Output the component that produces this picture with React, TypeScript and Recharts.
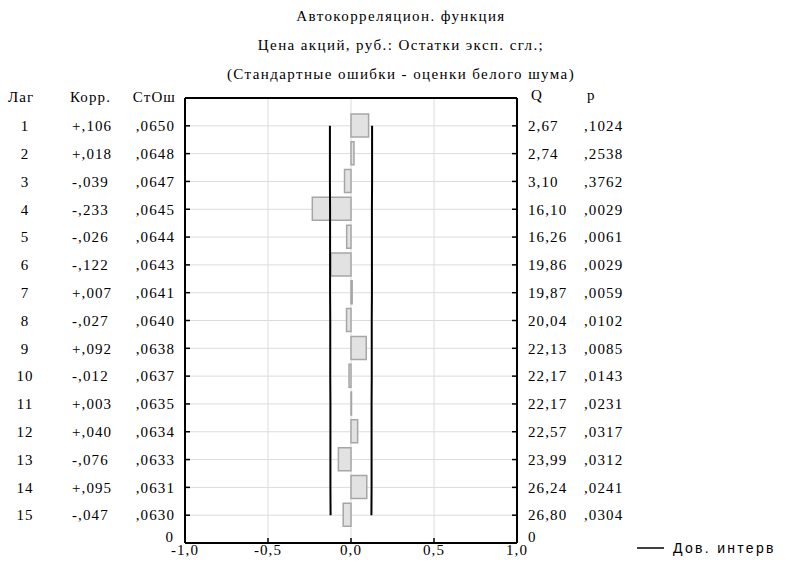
import React from "react";
import {
  ComposedChart,
  Bar,
  Line,
  XAxis,
  YAxis,
  CartesianGrid,
} from "recharts";

// ---- data ----
const lags = [1, 2, 3, 4, 5, 6, 7, 8, 9, 10, 11, 12, 13, 14, 15];
const corrValues = [0.106, 0.018, -0.039, -0.233, -0.026, -0.122, 0.007, -0.027, 0.092, -0.012, 0.003, 0.04, -0.076, 0.095, -0.047];
const stdErrors = [0.065, 0.0648, 0.0647, 0.0645, 0.0644, 0.0643, 0.0641, 0.064, 0.0638, 0.0637, 0.0635, 0.0634, 0.0633, 0.0631, 0.063];
const qValues = [2.67, 2.74, 3.1, 16.1, 16.26, 19.86, 19.87, 20.04, 22.13, 22.17, 22.17, 22.57, 23.99, 26.24, 26.8];
const pValues = [0.1024, 0.2538, 0.3762, 0.0029, 0.0061, 0.0029, 0.0059, 0.0102, 0.0085, 0.0143, 0.0231, 0.0317, 0.0312, 0.0241, 0.0304];
const ciUpper = [0.127, 0.127, 0.127, 0.126, 0.126, 0.126, 0.126, 0.125, 0.125, 0.125, 0.124, 0.124, 0.124, 0.124, 0.123];
const ciLower = [-0.127, -0.127, -0.127, -0.126, -0.126, -0.126, -0.126, -0.125, -0.125, -0.125, -0.124, -0.124, -0.124, -0.124, -0.123];

const xTicks = [-1, -0.5, 0, 0.5, 1];
const xTickLabels = ["-1,0", "-0,5", "0,0", "0,5", "1,0"];
const yTicks = [1, 2, 3, 4, 5, 6, 7, 8, 9, 10, 11, 12, 13, 14, 15, 16];
const bottomRowLabel = "0";

const titleLines = [
  "Автокорреляцион. функция",
  "Цена акций, руб.: Остатки эксп. сгл.;",
  "(Стандартные ошибки - оценки белого шума)",
];
const leftHeaders = ["Лаг", "Корр.", "СтОш"];
const rightHeaders = ["Q", "p"];
const legendLabel = "Дов. интерв";

const data = lags.map((lag, i) => ({
  lag,
  corr: corrValues[i],
  upper: ciUpper[i],
  lower: ciLower[i],
}));

const noLead = (s: string) => s.replace(/^0\./, ",").replace(".", ",");
const fmtCorr = (v: number) => (v >= 0 ? "+" : "-") + noLead(Math.abs(v).toFixed(3));
const fmtSE = (v: number) => noLead(v.toFixed(4));
const fmtQ = (v: number) => v.toFixed(2).replace(".", ",");
const fmtP = (v: number) => noLead(v.toFixed(4));

const SERIF = "'Liberation Serif', 'Times New Roman', serif";
const FS = 15;
const LS = 1.1;
const serifStyle: React.CSSProperties = { fontFamily: SERIF, fontSize: FS, letterSpacing: LS };

const PLOT_LEFT = 185;
const PLOT_RIGHT = 517;
const PLOT_TOP = 98;
const PLOT_BOTTOM = 543;
const W = 785;
const H = 573;

const LeftTick = (props: any) => {
  const { y, payload } = props;
  const v = payload.value as number;
  const idx = lags.indexOf(v);
  return (
    <g>
      {v < 16 && (
        <line x1={PLOT_LEFT} x2={PLOT_LEFT + 5} y1={y} y2={y} stroke="#000" strokeWidth={1.5} />
      )}
      <g style={serifStyle} fill="#000">
        {idx >= 0 && (
          <>
            <text x={25} y={y} dy="0.35em" textAnchor="middle">{String(v)}</text>
            <text x={72} y={y} dy="0.35em" textAnchor="start">{fmtCorr(corrValues[idx])}</text>
            <text x={175} y={y} dy="0.35em" textAnchor="end">{fmtSE(stdErrors[idx])}</text>
          </>
        )}
        {idx < 0 && (
          <text x={174} y={y - 6} dy="0.35em" textAnchor="end">{bottomRowLabel}</text>
        )}
      </g>
    </g>
  );
};

const RightTick = (props: any) => {
  const { y, payload } = props;
  const v = payload.value as number;
  const idx = lags.indexOf(v);
  return (
    <g>
      {v < 16 && (
        <line x1={PLOT_RIGHT - 5} x2={PLOT_RIGHT} y1={y} y2={y} stroke="#000" strokeWidth={1.5} />
      )}
      <g style={serifStyle} fill="#000">
        {idx >= 0 && (
          <>
            <text x={528} y={y} dy="0.35em" textAnchor="start">{fmtQ(qValues[idx])}</text>
            <text x={584} y={y} dy="0.35em" textAnchor="start">{fmtP(pValues[idx])}</text>
          </>
        )}
        {idx < 0 && (
          <text x={528} y={y - 6} dy="0.35em" textAnchor="start">{bottomRowLabel}</text>
        )}
      </g>
    </g>
  );
};

const BottomTick = (props: any) => {
  const { x, payload } = props;
  const i = xTicks.indexOf(payload.value);
  const inner = payload.value > -1 && payload.value < 1;
  return (
    <g>
      {inner && <line x1={x} x2={x} y1={PLOT_BOTTOM} y2={PLOT_BOTTOM - 5} stroke="#000" strokeWidth={1.5} />}
      <text x={x} y={PLOT_BOTTOM + 7} dy="0.35em" textAnchor="middle" style={serifStyle} fill="#000">
        {xTickLabels[i]}
      </text>
    </g>
  );
};

const TopTick = (props: any) => {
  const { x, payload } = props;
  const inner = payload.value > -1 && payload.value < 1;
  return inner ? (
    <line x1={x} x2={x} y1={PLOT_TOP} y2={PLOT_TOP + 5} stroke="#000" strokeWidth={1.5} />
  ) : (
    <g />
  );
};

const axisLine = { stroke: "#000", strokeWidth: 2 };

export default function App() {
  return (
    <div style={{ position: "absolute", left: 0, top: 0, width: W, height: H, background: "#fff" }}>
      <ComposedChart
        width={W}
        height={H}
        data={data}
        layout="vertical"
        margin={{ top: PLOT_TOP - 1, right: W - PLOT_RIGHT - 1, bottom: H - PLOT_BOTTOM - 1, left: PLOT_LEFT - 1 }}
      >
        <CartesianGrid xAxisId="bottom" yAxisId="left" stroke="#dcdcdc" strokeWidth={1} />
        <XAxis
          xAxisId="bottom"
          type="number"
          domain={[-1, 1]}
          ticks={xTicks}
          orientation="bottom"
          height={1}
          tickLine={false}
          axisLine={axisLine}
          tick={<BottomTick />}
          interval={0}
        />
        <XAxis
          xAxisId="top"
          type="number"
          domain={[-1, 1]}
          ticks={xTicks}
          orientation="top"
          height={1}
          tickLine={false}
          axisLine={axisLine}
          tick={<TopTick />}
          interval={0}
        />
        <YAxis
          yAxisId="left"
          type="number"
          dataKey="lag"
          domain={[0, 16]}
          ticks={yTicks}
          orientation="left"
          width={1}
          tickLine={false}
          axisLine={axisLine}
          tick={<LeftTick />}
          interval={0}
        />
        <YAxis
          yAxisId="right"
          type="number"
          dataKey="lag"
          domain={[0, 16]}
          ticks={yTicks}
          orientation="right"
          width={1}
          tickLine={false}
          axisLine={axisLine}
          tick={<RightTick />}
          interval={0}
        />
        <Bar
          xAxisId="bottom"
          yAxisId="left"
          dataKey="corr"
          barSize={23}
          fill="#e2e2e2"
          stroke="#a6a6a6"
          strokeWidth={1.5}
          isAnimationActive={false}
        />
        <Line
          xAxisId="bottom"
          yAxisId="left"
          dataKey="upper"
          stroke="#000"
          strokeWidth={2}
          dot={false}
          isAnimationActive={false}
        />
        <Line
          xAxisId="bottom"
          yAxisId="left"
          dataKey="lower"
          stroke="#000"
          strokeWidth={2}
          dot={false}
          isAnimationActive={false}
        />
      </ComposedChart>
      <svg
        width={W}
        height={H}
        style={{ position: "absolute", left: 0, top: 0, pointerEvents: "none" }}
      >
        <g style={{ fontFamily: SERIF, fontSize: FS, letterSpacing: 1.4 }} fill="#000">
          {titleLines.map((t, i) => (
            <text key={i} x={401} y={16 + i * 29} dy="0.35em" textAnchor="middle">{t}</text>
          ))}
        </g>
        <g style={serifStyle} fill="#000">
          <text x={8} y={97} dy="0.35em" textAnchor="start">{leftHeaders[0]}</text>
          <text x={70} y={97} dy="0.35em" textAnchor="start">{leftHeaders[1]}</text>
          <text x={176} y={97} dy="0.35em" textAnchor="end">{leftHeaders[2]}</text>
          <text x={531} y={95} dy="0.35em" textAnchor="start">{rightHeaders[0]}</text>
          <text x={587} y={95} dy="0.35em" textAnchor="start">{rightHeaders[1]}</text>
        </g>
        <line x1={637} x2={664} y1={548} y2={548} stroke="#000" strokeWidth={1.5} />
        <text x={673} y={548} dy="0.35em" style={{ fontFamily: "'Liberation Sans', Arial, sans-serif", fontSize: 14, letterSpacing: 2.3 }} fill="#000">
          {legendLabel}
        </text>
      </svg>
    </div>
  );
}
